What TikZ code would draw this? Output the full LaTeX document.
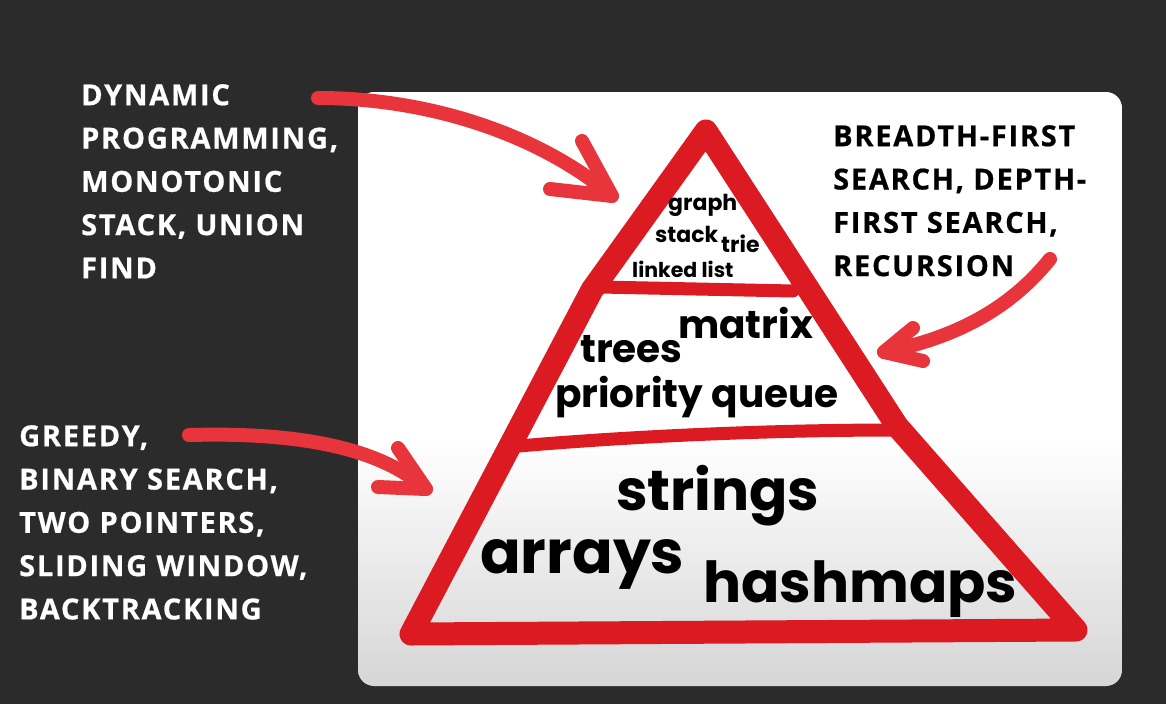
\documentclass[tikz,border=0pt]{standalone}
\usepackage{fontspec}
\setmainfont{Poppins}
\newfontfamily\labelfont[LetterSpace=6, BoldFeatures={FakeBold=0.6}]{Open Sans}
\definecolor{bg}{HTML}{2B2B2B}
\definecolor{pyr}{HTML}{DC1A22}
\definecolor{arr}{HTML}{E8353B}
\definecolor{panelbot}{HTML}{D6D6D6}
\tikzset{
  lbl/.style={font=\labelfont\bfseries\fontsize{29}{43.3}\selectfont, align=left, inner sep=0, anchor=north west},
  word/.style={font=\bfseries\fontsize{#1}{#1}\selectfont, inner sep=0, anchor=base west, text=black},
  edge/.style={draw=pyr, line width=23, line join=round, line cap=round},
  divider/.style={draw=pyr, line width=13, line cap=round},
  arrline/.style={draw=arr, line width=14, line cap=round, line join=round},
}
\begin{document}
\begin{tikzpicture}[x=1pt,y=-1pt]
\useasboundingbox (0,0) rectangle (1166,704);
\fill[bg] (0,0) rectangle (1166,704);
% panel
\begin{scope}
\clip[rounded corners=16] (358,92) rectangle (1122,686);
\fill[white] (358,92) rectangle (1122,440);
\shade[top color=white, bottom color=panelbot] (358,439) rectangle (1122,686);
\end{scope}
% pyramid
\coordinate (apex) at (706,131);
\coordinate (lk) at (592,290);
\coordinate (bl) at (411,634);
\coordinate (br) at (1076,630);
\coordinate (rk) at (897,426);
\draw[edge] (bl) -- (lk) -- (apex) -- (rk) -- (br) -- cycle;
\coordinate (d1l) at (600,287);
\coordinate (d1r) at (793,291);
\draw[divider] (d1l) -- (d1r);
\coordinate (d2l) at (507,447);
\coordinate (d2r) at (898,430);
\draw[divider] (d2l) .. controls (620,437) and (760,430) .. (d2r);
% words
\node[word=22] (graph) at (668,210) {graph};
\node[word=22] (stack) at (655,242) {stack};
\node[word=22] (trie) at (721,252) {trie};
\node[word=20.5] (linked) at (632,277) {linked list};
\node[word=39] (matrix) at (678,338) {matrix};
\node[word=39] (trees) at (580,362) {trees};
\node[word=39] (pq) at (555,407) {priority queue};
\node[word=56.5] (strings) at (616,510) {strings};
\node[word=60] (arrays) at (480,573) {arrays};
\node[word=56.5] (hashmaps) at (703,602) {hashmaps};
% labels
\node[lbl, text=white] (dp) at (81,84) {DYNAMIC\\PROGRAMMING,\\MONOTONIC\\STACK, UNION\\FIND};
\node[lbl, text=black] (bfs) at (833,125) {BREADTH-FIRST\\SEARCH, DEPTH-\\FIRST SEARCH,\\RECURSION};
\node[lbl, text=white] (greedy) at (19,425) {GREEDY,\\BINARY SEARCH,\\TWO POINTERS,\\SLIDING WINDOW,\\BACKTRACKING};
% arrows
\coordinate (a1s) at (318,98);
\coordinate (a1t) at (612,196);
\coordinate (a1b1) at (582,141);
\coordinate (a1b2) at (550,189);
\draw[arrline] (a1s) .. controls (430,98) and (540,135) .. (a1t);
\draw[arrline] (a1b1) -- (a1t) -- (a1b2);
\coordinate (a2s) at (1050,259);
\coordinate (a2t) at (884,352);
\coordinate (a2b1) at (913,328);
\coordinate (a2b2) at (923,361);
\draw[arrline] (a2s) .. controls (1005,315) and (945,340) .. (a2t);
\draw[arrline] (a2b1) -- (a2t) -- (a2b2);
\coordinate (a3s) at (189,435);
\coordinate (a3t) at (426,489);
\coordinate (a3b1) at (398,448);
\coordinate (a3b2) at (378,487);
\draw[arrline] (a3s) .. controls (300,432) and (380,448) .. (a3t);
\draw[arrline] (a3b1) -- (a3t) -- (a3b2);
\end{tikzpicture}
\end{document}
